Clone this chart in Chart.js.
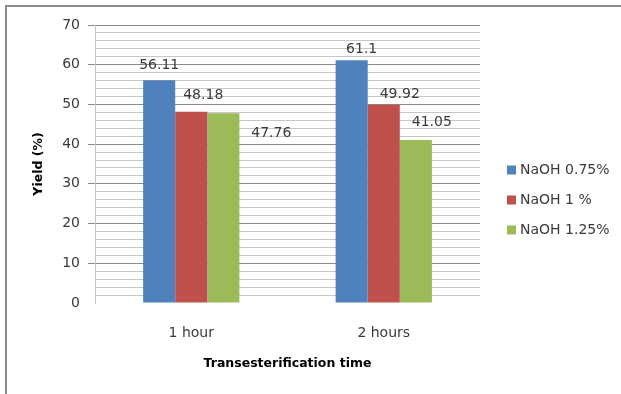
<!DOCTYPE html>
<html>
<head>
<meta charset="utf-8">
<script src="https://cdn.jsdelivr.net/npm/chart.js@4/dist/chart.umd.min.js"></script>
<style>
  html, body { margin: 0; padding: 0; background: #fff; }
  #wrap { width: 621px; height: 394px; position: relative; }
</style>
</head>
<body>
<div id="wrap"><canvas id="c" width="621" height="394"></canvas></div>
<script>
// Categories and series
const categories = ['1 hour', '2 hours'];
const seriesNames = ['NaOH 0.75%', 'NaOH 1 %', 'NaOH 1.25%'];
const naoh075 = [56.11, 61.1];
const naoh100 = [48.18, 49.92];
const naoh125 = [47.76, 41.05];
const seriesColors = ['#4F81BD', '#C0504D', '#9BBB59'];
const yTickLabels = [0, 10, 20, 30, 40, 50, 60, 70];

// Nudges (px) for the value labels, [dx, dy] per series per category
const labelNudge = [
  [[0, -15], [10, -11]],
  [[12, -16], [16, -10]],
  [[48, 20], [16, -18]]
];

const FONT = '"DejaVu Sans", sans-serif';

const framePlugin = {
  id: 'frame',
  beforeDraw(chart) {
    const ctx = chart.ctx;
    ctx.save();
    ctx.strokeStyle = '#8c8c8c';
    ctx.lineWidth = 2;
    ctx.beginPath();
    ctx.moveTo(6, 394);
    ctx.lineTo(6, 6);
    ctx.lineTo(621, 6);
    ctx.stroke();
    ctx.restore();
  }
};

const valueLabels = {
  id: 'valueLabels',
  afterDatasetsDraw(chart) {
    const ctx = chart.ctx;
    ctx.save();
    ctx.font = '14px ' + FONT;
    ctx.fillStyle = '#3a3a3a';
    ctx.textAlign = 'center';
    ctx.textBaseline = 'middle';
    chart.data.datasets.forEach((ds, i) => {
      chart.getDatasetMeta(i).data.forEach((bar, j) => {
        const [dx, dy] = labelNudge[i][j];
        ctx.fillText(String(ds.data[j]), bar.x + dx, bar.y + dy);
      });
    });
    ctx.restore();
  }
};

// Legend column to the right of the plot
const sideLegend = {
  id: 'sideLegend',
  afterDraw(chart) {
    const ctx = chart.ctx;
    const x0 = chart.chartArea.right + 27;
    const yMid = (chart.chartArea.top + chart.chartArea.bottom) / 2;
    ctx.save();
    ctx.font = '14px ' + FONT;
    ctx.textAlign = 'left';
    ctx.textBaseline = 'middle';
    chart.data.datasets.forEach((ds, i) => {
      const y = yMid + 6 + i * 30;
      ctx.fillStyle = ds.backgroundColor;
      ctx.fillRect(x0, y - 4.5, 9, 9);
      ctx.fillStyle = '#3a3a3a';
      ctx.fillText(ds.label, x0 + 13, y);
    });
    ctx.restore();
  }
};

const seriesData = [naoh075, naoh100, naoh125];

new Chart(document.getElementById('c'), {
  type: 'bar',
  data: {
    labels: categories,
    datasets: seriesNames.map((name, i) => ({
      label: name,
      data: seriesData[i],
      backgroundColor: seriesColors[i],
      borderWidth: 0,
      categoryPercentage: 0.5,
      barPercentage: 1.0
    }))
  },
  options: {
    responsive: false,
    animation: false,
    devicePixelRatio: 1,
    layout: { padding: { top: 25, right: 141, left: 0, bottom: 0 } },
    plugins: {
      legend: { display: false },
      tooltip: { enabled: false }
    },
    scales: {
      x: {
        grid: { display: false, drawTicks: false },
        border: { display: false },
        ticks: {
          font: { family: FONT, size: 14 },
          color: '#3a3a3a',
          padding: 22
        },
        title: {
          display: true,
          text: 'Transesterification time',
          font: { family: FONT, size: 12.5, weight: 'bold' },
          color: '#000',
          padding: { top: 0, bottom: 22.5 }
        },
        afterFit(scale) { scale.height = 91; }
      },
      y: {
        min: 0,
        max: 70,
        ticks: {
          stepSize: 2,
          autoSkip: false,
          font: { family: FONT, size: 14 },
          color: '#3a3a3a',
          padding: 8,
          callback: (v) => (yTickLabels.includes(v) ? String(v) : '')
        },
        grid: {
          drawTicks: true,
          tickLength: 7,
          lineWidth: 1,
          color: (c) => {
            if (c.tick && c.tick.value === 0) return 'rgba(0,0,0,0)';
            return (c.tick && c.tick.value % 10 === 0) ? '#8a8a8a' : '#c6c6c6';
          },
          tickColor: (c) => (c.tick && c.tick.value % 10 === 0 && c.tick.value !== 0) ? '#8a8a8a' : 'rgba(0,0,0,0)'
        },
        border: { display: true, color: '#c6c6c6', width: 1 },
        title: {
          display: true,
          text: 'Yield (%)',
          font: { family: FONT, size: 12.5, weight: 'bold' },
          color: '#000',
          padding: { top: 31.5, bottom: 0 }
        },
        afterFit(scale) { scale.width = 95; }
      }
    }
  },
  plugins: [framePlugin, valueLabels, sideLegend]
});
</script>
</body>
</html>
